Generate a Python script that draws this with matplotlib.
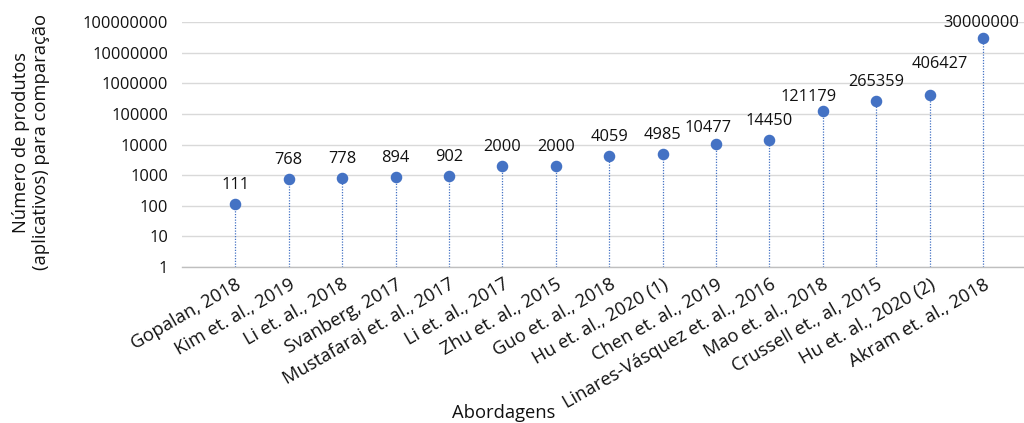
import matplotlib
matplotlib.use("Agg")
import matplotlib.pyplot as plt
from matplotlib.ticker import FixedLocator, FixedFormatter, NullLocator

plt.rcParams['font.family'] = ['Open Sans', 'DejaVu Sans']

approaches = [
    "Gopalan, 2018", "Kim et. al., 2019", "Li et. al., 2018", "Svanberg, 2017",
    "Mustafaraj et. al., 2017", "Li et. al., 2017", "Zhu et. al., 2015",
    "Guo et. al., 2018", "Hu et. al., 2020 (1)", "Chen et. al., 2019",
    "Linares-Vásquez et. al., 2016", "Mao et. al., 2018", "Crussell et., al, 2015",
    "Hu et. al., 2020 (2)", "Akram et. al., 2018",
]
product_counts = [111, 768, 778, 894, 902, 2000, 2000, 4059, 4985, 10477,
                  14450, 121179, 265359, 406427, 30000000]
y_ticks = [1, 10, 100, 1000, 10000, 100000, 1000000, 10000000, 100000000]
y_tick_labels = [str(v) for v in y_ticks]

# value-label placement (pixels): default lift above the marker, plus
# hand-tuned nudges where neighbouring labels would collide
label_lift = 19
label_nudge = {9: (-8, 16), 11: (-14, 14), 13: (10, 31), 14: (-2, 15)}

blue = "#4472C4"
fs_num = 11.8
fs_text = 13.2
ink = "#111111"
px = 0.72  # points per pixel at 100 dpi

fig = plt.figure(figsize=(10.24, 4.23), dpi=100)
ax = fig.add_axes([182 / 1024, (423 - 267) / 423, (1024 - 182) / 1024, 245 / 423])

x = list(range(len(approaches)))
ax.set_yscale("log")
ax.set_ylim(1, 1e8)
ax.set_xlim(-1, -1 + (1024 - 182) / 53.4)

for xi, v in zip(x, product_counts):
    ax.plot([xi, xi], [1, v], color=blue, lw=0.9, ls=(0, (1, 1.2)), zorder=2)
ax.plot(x, product_counts, "o", color=blue, ms=7.3, zorder=3, clip_on=False)

for i, (xi, v) in enumerate(zip(x, product_counts)):
    dx, dy = label_nudge.get(i, (0, label_lift))
    ax.annotate(str(v), (xi, v), xytext=(dx * px, dy * px), textcoords="offset points",
                ha="center", va="center", fontsize=fs_num, color=ink)

ax.yaxis.set_major_locator(FixedLocator(y_ticks))
ax.yaxis.set_major_formatter(FixedFormatter(y_tick_labels))
ax.yaxis.set_minor_locator(NullLocator())
ax.grid(axis="y", color="#D9D9D9", lw=1)
ax.set_axisbelow(True)

ax.set_xticks(x)
ax.set_xticklabels(approaches, rotation=30, ha="right", va="top",
                   rotation_mode="anchor", fontsize=fs_text, color=ink)
ax.tick_params(axis="x", length=0, pad=6)
ax.tick_params(axis="y", length=0, pad=10, labelsize=fs_num, labelcolor=ink)

for side in ["top", "right", "left"]:
    ax.spines[side].set_visible(False)
ax.spines["bottom"].set_color("#BFBFBF")
ax.spines["bottom"].set_linewidth(1)

fig.text(31 / 1024, 1 - 142 / 423, "Número de produtos\n(aplicativos) para comparação",
         rotation=90, ha="center", va="center", fontsize=fs_text, color=ink,
         linespacing=1.2)
fig.text(504 / 1024, 1 - 413 / 423, "Abordagens", ha="center", va="center",
         fontsize=fs_text, color=ink)

fig.savefig("out.png", dpi=100)
